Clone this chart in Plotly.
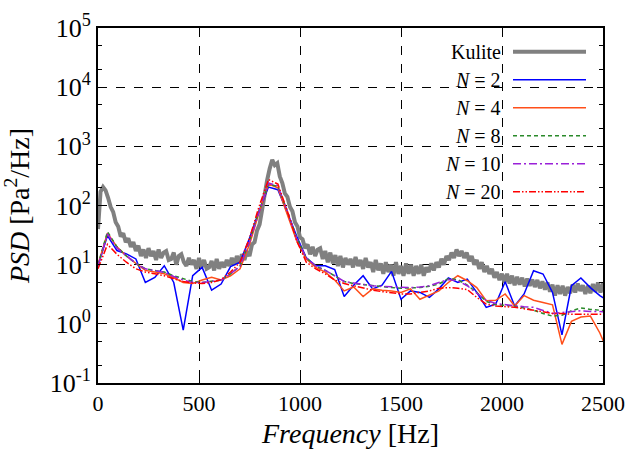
import plotly.graph_objects as go

# ---------------- data ----------------
kulite_step = 12.5  # Hz spacing of the Kulite spectrum
kulite_psd = [
    40, 170, 205, 180, 135, 95, 78, 52, 44, 30, 34, 24, 28, 20, 24, 17, 21, 14, 18, 13,
    19, 14, 17, 12, 18, 13, 16, 17, 12, 12.5, 16, 10, 14, 15, 11, 9.5, 13, 10, 12, 8.5,
    13, 9, 12, 8.5, 9, 11.5, 8, 12.5, 8.5, 11, 9, 12, 9.5, 13, 10, 14, 10.5, 15, 12, 17,
    14, 22, 24, 38, 48, 90, 140, 270, 420, 590, 480, 520, 310, 240, 160, 140, 95, 80, 52, 44,
    29, 27, 19, 22, 15, 20, 14, 18, 19, 12.5, 17, 11, 16, 10.5, 14.5, 9.5, 14, 9, 13, 10,
    12.5, 9, 13.5, 9.5, 12, 8.5, 13, 9, 11, 7.5, 12, 8, 10.5, 7, 11, 7.5, 10, 6.5, 11, 7,
    9.5, 6.5, 10.5, 7, 10, 6.5, 9.5, 7, 10, 6.5, 9, 7.5, 10.5, 8, 11, 9, 12.5, 10, 14, 12,
    16, 13, 18, 14, 17, 13, 16, 11.5, 14, 10, 12, 8.5, 11, 7.5, 9.5, 7, 8.5, 6, 7.5, 5.5,
    7, 5, 7, 4.8, 6.5, 4.5, 6.2, 4.6, 6, 4.3, 5.8, 4.4, 5.6, 4.2, 5.5, 4, 5.2, 3.8, 5, 3.5,
    4.6, 3.0, 4.5, 3.2, 4.4, 3.0, 4.2, 3.3, 4.6, 3.4, 4.8, 3.6, 4.5, 3.2, 4.4, 3.3, 4.7, 3.5,
    5.0, 3.4, 4.8, 3.2, 4.0,
]

model_step = 46.875  # Hz spacing of the model spectra
psd_n2 = [9.6, 31, 17.3, 15.2, 12.5, 5.0, 6.1, 9.6, 5.0, 0.78, 6.5, 9.0, 3.7, 4.7, 9.3, 11,
          28, 80, 205, 185, 75, 30, 13, 9.6, 9.6, 8.3, 2.9, 4.5, 6.5, 3.9, 4.5, 7.7, 2.6,
          3.6, 3.4, 2.8, 3.9, 5.95, 5.0, 5.7, 3.4, 1.9, 2.16, 5.15, 2.0, 3.2, 7.9, 6.95,
          3.4, 0.65, 4.4, 5.95, 4.1, 3.0, 2.4]
psd_n4 = [10, 34, 20, 14, 10.5, 8.0, 7.5, 7.0, 6.0, 5.0, 4.8, 5.5, 6.1, 5.5, 6.5, 8.5,
          22, 75, 230, 200, 70, 25, 12.5, 9.0, 7.5, 5.5, 3.6, 4.2, 2.9, 3.9, 3.7, 3.6, 3.4,
          3.9, 2.6, 3.1, 3.6, 5.0, 6.5, 5.35, 4.1, 2.45, 2.5, 3.2, 2.0, 3.0, 2.5, 2.3,
          2.1, 0.45, 1.1, 1.3, 1.35, 0.7, 0.3]
psd_n8 = [10, 36, 20, 14, 10.5, 8.5, 8.0, 7.5, 6.5, 5.8, 5.2, 5.0, 5.3, 5.5, 7.0, 9.5,
          25, 80, 230, 210, 80, 28, 13, 9.5, 8.0, 6.5, 5.2, 4.8, 4.6, 4.4, 4.2, 4.1, 4.0,
          4.0, 4.1, 4.3, 4.7, 5.8, 5.6, 4.5, 3.4, 2.4, 2.1, 2.05, 2.0, 1.85, 1.7, 1.5,
          1.35, 1.4, 1.66, 1.86, 1.75, 1.7, 1.65]
psd_n10 = [9.5, 33, 19, 14, 10.5, 8.5, 8.0, 7.4, 6.3, 5.5, 5.0, 5.0, 5.2, 5.5, 7.0, 9.5,
           24, 78, 240, 215, 80, 27, 13, 9.5, 8.0, 6.5, 5.2, 4.9, 4.6, 4.4, 4.3, 4.2, 4.1,
           4.1, 4.2, 4.4, 5.0, 5.6, 5.3, 4.4, 3.3, 2.5, 2.2, 2.1, 2.0, 1.95, 1.9, 1.7,
           1.5, 1.55, 1.6, 1.66, 1.62, 1.6, 1.6]
psd_n20 = [8.5, 22, 15, 11, 8.5, 7.5, 7.0, 6.5, 5.8, 5.2, 4.9, 4.8, 5.0, 5.6, 7.5, 11,
           28, 95, 275, 230, 80, 25, 11, 8.5, 7.0, 5.5, 4.8, 4.4, 4.0, 3.7, 3.5, 3.3, 3.2,
           3.2, 3.4, 3.6, 4.0, 4.1, 4.0, 3.8, 2.8, 2.16, 2.0, 1.95, 1.9, 1.8, 1.7, 1.6,
           1.5, 1.5, 1.45, 1.45, 1.45, 1.45, 1.45]

series_names = ["Kulite", "<i>N</i> = 2", "<i>N</i> = 4", "<i>N</i> = 8",
                "<i>N</i> = 10", "<i>N</i> = 20"]
x_ticks = [0, 500, 1000, 1500, 2000, 2500]
y_exponents = [-1, 0, 1, 2, 3, 4, 5]

kulite_freq = [i * kulite_step for i in range(len(kulite_psd))]
model_freq = [i * model_step for i in range(len(psd_n2))]

# ---------------- styles ----------------
styles = [
    dict(color="#808080", width=4, dash="solid"),
    dict(color="#0000ff", width=1.5, dash="solid"),
    dict(color="#ff4f1a", width=1.5, dash="solid"),
    dict(color="#2a8a2a", width=1.5, dash="4px,3px"),
    dict(color="#9a20d8", width=1.5, dash="8px,3px,2px,3px"),
    dict(color="#ff0000", width=1.5, dash="7px,2px,1.5px,2px,1.5px,2px"),
]

FONT = "Liberation Serif"
fig = go.Figure()
xs = [kulite_freq] + [model_freq] * 5
ys = [kulite_psd, psd_n2, psd_n4, psd_n8, psd_n10, psd_n20]
for name, x, y, st in zip(series_names, xs, ys, styles):
    fig.add_trace(go.Scatter(x=x, y=y, mode="lines", name=name, line=st,
                             showlegend=False))

# manual legend (text right-aligned, sample line to the right of it)
L, R, T, B = 98, 27, 28, 66
W, H = 630, 449
pw, ph = W - L - R, H - T - B
row0, row_gap = 51.7, 28.0
for i, (name, st) in enumerate(zip(series_names, styles)):
    py = row0 + i * row_gap
    yp = (H - B - py) / ph
    fig.add_annotation(x=(503 - L) / pw, y=yp, xref="paper", yref="paper",
                       text=name, showarrow=False, xanchor="right", yanchor="middle",
                       font=dict(family=FONT, size=20, color="black"))
    fig.add_shape(type="line", xref="paper", yref="paper",
                  x0=(513 - L) / pw, x1=(586 - L) / pw, y0=yp, y1=yp,
                  line=dict(color=st["color"], width=st["width"], dash=st["dash"]))

fig.update_layout(
    width=W, height=H,
    margin=dict(l=L, r=R, t=T, b=B, autoexpand=False),
    paper_bgcolor="white", plot_bgcolor="white",
    font=dict(family=FONT, color="black"),
)
fig.update_xaxes(
    range=[0, 2500], tickvals=x_ticks, ticktext=[str(v) for v in x_ticks],
    automargin=False,
    showline=True, mirror="ticks", linecolor="black", linewidth=2,
    ticks="inside", ticklen=6, tickcolor="black",
    showgrid=True, gridcolor="black", griddash="dash", gridwidth=1,
    zeroline=False, tickfont=dict(family=FONT, size=22),
    title=dict(text="<i>Frequency</i> [Hz]", font=dict(family=FONT, size=28)),
)
fig.update_yaxes(
    type="log", range=[-1, 5],
    tickvals=[10 ** e for e in y_exponents],
    ticktext=[f"10<sup>{e}</sup>" for e in y_exponents],
    minor=dict(tickvals=[m * 10 ** e for e in y_exponents[:-1] for m in (2, 5)],
               ticks="inside", ticklen=4, tickcolor="black", showgrid=False),
    automargin=False,
    showline=True, mirror="ticks", linecolor="black", linewidth=2,
    ticks="inside", ticklen=6, tickcolor="black",
    showgrid=True, gridcolor="black", griddash="dash", gridwidth=1,
    zeroline=False, tickfont=dict(family=FONT, size=26),
    title=dict(text="<i>PSD</i> [Pa<sup>2</sup>/Hz]", font=dict(family=FONT, size=28)),
)

fig.write_html(
    "out.html",
    config={"displayModeBar": False},
    post_script="document.body.style.margin='0';document.body.style.padding='0';",
)
